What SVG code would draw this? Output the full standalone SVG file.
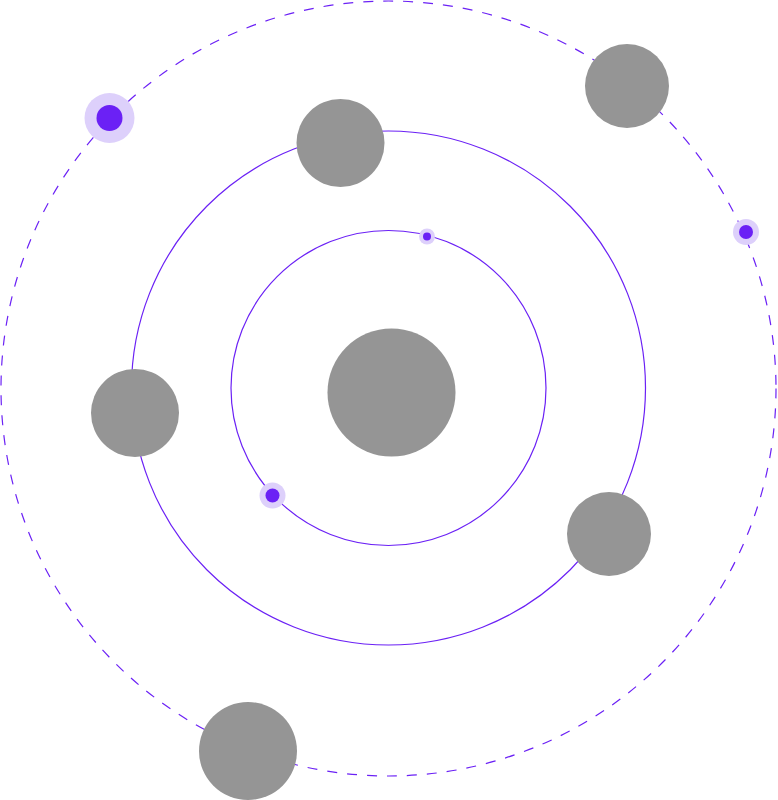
<svg xmlns="http://www.w3.org/2000/svg" width="778" height="800" viewBox="0 0 778 800">
<style>
.orbit{fill:none;stroke:#6b21f5;stroke-width:1.2}
.dashed{stroke-dasharray:10 10}
.planet{fill:#959595}
.halo{fill:#ddd0fb}
.dot{fill:#6b21f5}
</style>
<rect width="778" height="800" fill="#ffffff"/>
<g id="orbits">
<circle class="orbit dashed" cx="388.5" cy="388.5" r="387.5"/>
<circle class="orbit" cx="388.5" cy="388" r="257"/>
<circle class="orbit" cx="388.5" cy="388" r="157.5"/>
</g>
<g id="center"><circle class="planet" cx="391.5" cy="392.5" r="64"/></g>
<g id="planet1"><circle class="planet" cx="340.5" cy="143" r="44"/></g>
<g id="planet2"><circle class="planet" cx="627" cy="86" r="42"/></g>
<g id="planet3"><circle class="planet" cx="135" cy="413" r="44"/></g>
<g id="planet4"><circle class="planet" cx="609" cy="534" r="42"/></g>
<g id="planet5"><circle class="planet" cx="248" cy="751" r="49"/></g>
<g id="dot1"><circle class="halo" cx="109.5" cy="118" r="25"/><circle class="dot" cx="109.5" cy="118" r="13"/></g>
<g id="dot2"><circle class="halo" cx="746" cy="232" r="13"/><circle class="dot" cx="746" cy="232" r="7"/></g>
<g id="dot3"><circle class="halo" cx="427" cy="236.5" r="8"/><circle class="dot" cx="427" cy="236.5" r="4"/></g>
<g id="dot4"><circle class="halo" cx="272.5" cy="495.5" r="13"/><circle class="dot" cx="272.5" cy="495.5" r="7"/></g>
</svg>
